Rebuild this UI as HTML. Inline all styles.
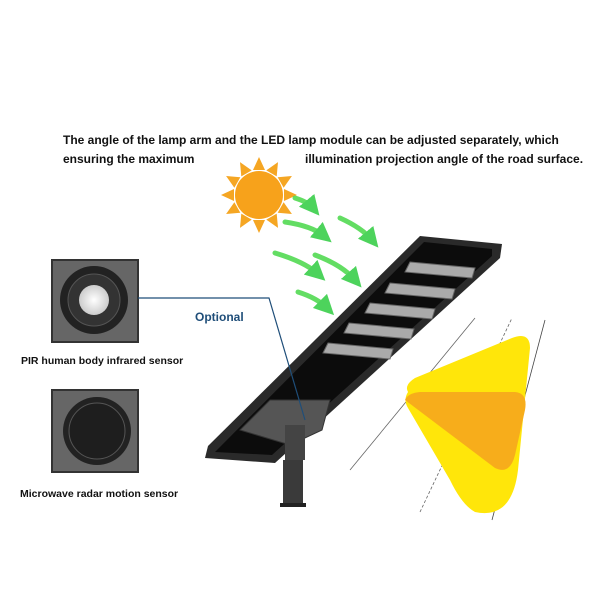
<!DOCTYPE html>
<html><head><style>
body{margin:0;background:#fff;width:600px;height:600px;overflow:hidden;position:relative;font-family:"Liberation Sans",sans-serif}
.t{position:absolute;font-weight:bold;font-size:12px;color:#111;white-space:nowrap}
</style></head><body>
<div class="t" style="left:63px;top:133px">The angle of the lamp arm and the LED lamp module can be adjusted separately, which</div>
<div class="t" style="left:63px;top:152px">ensuring the maximum</div>
<div class="t" style="left:305px;top:152px">illumination projection angle of the road surface.</div>
<div class="t" style="left:21px;top:355px;font-size:10.5px">PIR human body infrared sensor</div>
<div class="t" style="left:20px;top:488px;font-size:10.5px">Microwave radar motion sensor</div>
<div class="t" style="left:195px;top:310px;font-size:12px;color:#1f4e79">Optional</div>
<svg width="600" height="600" style="position:absolute;left:0;top:0">
<defs>
<marker id="ah" markerWidth="4" markerHeight="4" refX="2" refY="2" orient="auto"><path d="M0,0L4,2L0,4z" fill="#2ecc40"/></marker>
<radialGradient id="pir"><stop offset="0" stop-color="#fff"/><stop offset="1" stop-color="#ccc"/></radialGradient>
</defs>
<g fill="#f5a623" transform="translate(259,195)">
<g id="r"><polygon points="-6,-25 6,-25 0,-38"/></g>
<use href="#r" transform="rotate(30)"/><use href="#r" transform="rotate(60)"/><use href="#r" transform="rotate(90)"/><use href="#r" transform="rotate(120)"/><use href="#r" transform="rotate(150)"/><use href="#r" transform="rotate(180)"/><use href="#r" transform="rotate(210)"/><use href="#r" transform="rotate(240)"/><use href="#r" transform="rotate(270)"/><use href="#r" transform="rotate(300)"/><use href="#r" transform="rotate(330)"/>
<circle r="24" fill="#f7a21b"/>
</g>
<g fill="none" stroke="#48d848" stroke-width="5" stroke-linecap="round" marker-end="url(#ah)" opacity="0.85">
<path d="M295,198 Q308,202 313,208"/>
<path d="M285,222 Q312,226 324,236"/>
<path d="M340,218 Q362,228 372,240"/>
<path d="M275,253 Q305,262 318,274"/>
<path d="M315,255 Q342,265 355,280"/>
<path d="M298,292 Q317,298 327,308"/>
</g>
<rect x="52" y="260" width="86" height="82" fill="#666" stroke="#333" stroke-width="2"/>
<circle cx="94" cy="300" r="34" fill="#222"/><circle cx="94" cy="300" r="26" fill="#333" stroke="#555"/><circle cx="94" cy="300" r="15" fill="url(#pir)"/>
<rect x="52" y="390" width="86" height="82" fill="#666" stroke="#333" stroke-width="2"/>
<circle cx="97" cy="431" r="34" fill="#222"/><circle cx="97" cy="431" r="28" fill="#1e1e1e" stroke="#555"/>
<line x1="350" y1="470" x2="475" y2="318" stroke="#666" stroke-width="0.8"/>
<line x1="420" y1="512" x2="512" y2="318" stroke="#666" stroke-width="0.8" stroke-dasharray="3,2"/>
<line x1="492" y1="520" x2="545" y2="320" stroke="#444" stroke-width="0.8"/>
<path d="M408,392 Q404,385 415,378 L512,338 Q530,331 530,348 L518,470 Q512,520 475,512 Q462,505 450,480 L408,408 Q403,400 408,392 Z" fill="#ffe60a"/>
<path d="M405,400 Q408,393 420,392 L515,392 Q528,393 525,410 L515,455 Q510,475 495,468 Z" fill="#f7ad1b"/>
<polygon points="420,236 502,244 500,258 275,463 205,458 208,446" fill="#2a2a2a"/>
<polygon points="424,242 492,249 492,256 272,455 215,452" fill="#0c0c0c"/>
<g fill="#aaa" stroke="#666">
<polygon points="410,262 475,268 472,278 405,272"/>
<polygon points="390,283 455,289 452,299 385,293"/>
<polygon points="370,303 435,309 432,319 365,313"/>
<polygon points="349,323 414,329 411,339 344,333"/>
<polygon points="328,343 393,349 390,359 323,353"/>
</g>
<polygon points="240,430 270,400 330,400 322,430 290,445" fill="#555" stroke="#333"/>
<rect x="285" y="425" width="20" height="35" fill="#444"/>
<rect x="283" y="460" width="20" height="45" fill="#3a3a3a"/>
<rect x="280" y="503" width="26" height="4" fill="#222"/>
<polyline points="138,298 269,298 305,420" fill="none" stroke="#1f4e79" stroke-width="1.2"/>
</svg>
</body></html>
